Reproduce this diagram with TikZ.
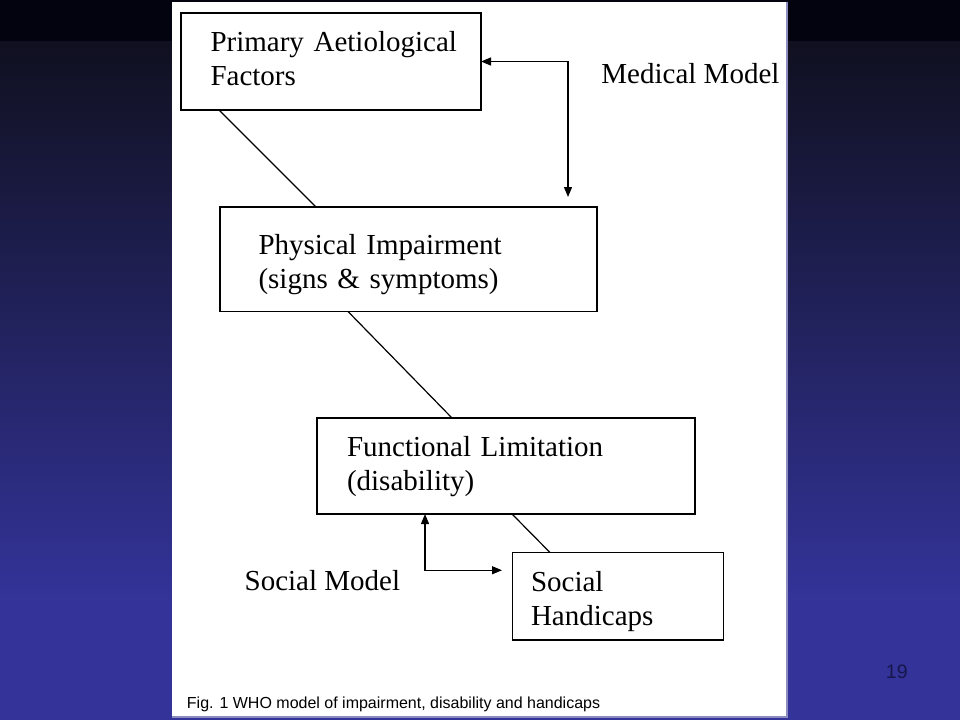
\documentclass[tikz,border=0pt]{standalone}
\usepackage{fontspec}
\setmainfont{Liberation Serif}
\newfontfamily\capfont{Liberation Sans}
\usetikzlibrary{arrows.meta}
\definecolor{topband}{HTML}{03030F}
\definecolor{bgtop}{HTML}{101020}
\definecolor{bgmid}{HTML}{222266}
\definecolor{bgbot}{HTML}{333399}
\definecolor{rim}{HTML}{8C8CC0}
\definecolor{pagenum}{RGB}{22,22,74}

\begin{document}
\begin{tikzpicture}[x=1pt,y=-1pt,>={Triangle[length=10pt,width=8pt]},line width=1.2pt,font=\fontsize{29}{34}\selectfont]
\tikzstyle{box}=[shape=rectangle,draw,fill=white,text=black,align=left,inner ysep=0pt,outer sep=0pt,text height=20pt,text depth=40pt,line width=1.3pt]

% slide background and the white page
\useasboundingbox (0,0) rectangle (960,720);
\fill[topband] (0,0) rectangle (960,41);
\shade[top color=bgtop,middle color=bgmid,bottom color=bgbot] (0,41) rectangle (960,600);
\fill[bgbot] (0,600) rectangle (960,720);
\fill[white] (172,1.5) rectangle (786,716);
\draw[rim,line width=2pt] (787,1.5) -- (787,717) -- (172,717);

\node[box]  (A) at (331,61.5) [minimum width=300pt,minimum height=97pt,inner xsep=29.5pt,text width=241pt] {\mbox{Primary Aetiological}\\Factors};
\node[box]  (B) at (408.5,259.25) [minimum width=377pt,minimum height=104.5pt,inner xsep=38.5pt,text width=300pt,text depth=30pt] {Physical Impairment\\(signs \& symptoms)};
\node[box]  (C) at (506,466) [minimum width=378pt,minimum height=96pt,inner xsep=30pt,text width=318pt] {Functional Limitation\\(disability)};
\node[box]  (D) at (618,596.25) [minimum width=211pt,minimum height=87.5pt,inner xsep=18.5pt,text width=174pt,text depth=30pt] {Social\\Handicaps};

\node (med) at (597.5,83) [anchor=base west] {Medical Model};
\node (soc) at (240.7,590.7) [anchor=base west] {Social Model};

\coordinate (mtip) at ([xshift=159.5pt,yshift=10pt]B.north);
\coordinate (stip) at ([xshift=-10.5pt,yshift=26pt]D.west);

\path
([xshift=-112pt]A.south) edge ([xshift=-92.5pt]B.north)
([xshift=-60.5pt]B.south) edge ([xshift=-54pt]C.north)
([xshift=6pt]C.south) edge ([xshift=-68pt]D.north);

\draw[<->] (A.east) -| (mtip);
\draw[<->] ([xshift=-81pt]C.south) |- (stip);

\node (cap) at (183,708) [anchor=base west,font=\capfont\fontsize{16}{19}\selectfont] {Fig. 1 WHO model of impairment, disability and handicaps};
\node (pg) at (882,678) [anchor=base west,text=pagenum,font=\capfont\fontsize{19.5}{23}\selectfont] {19};
\end{tikzpicture}
\end{document}
